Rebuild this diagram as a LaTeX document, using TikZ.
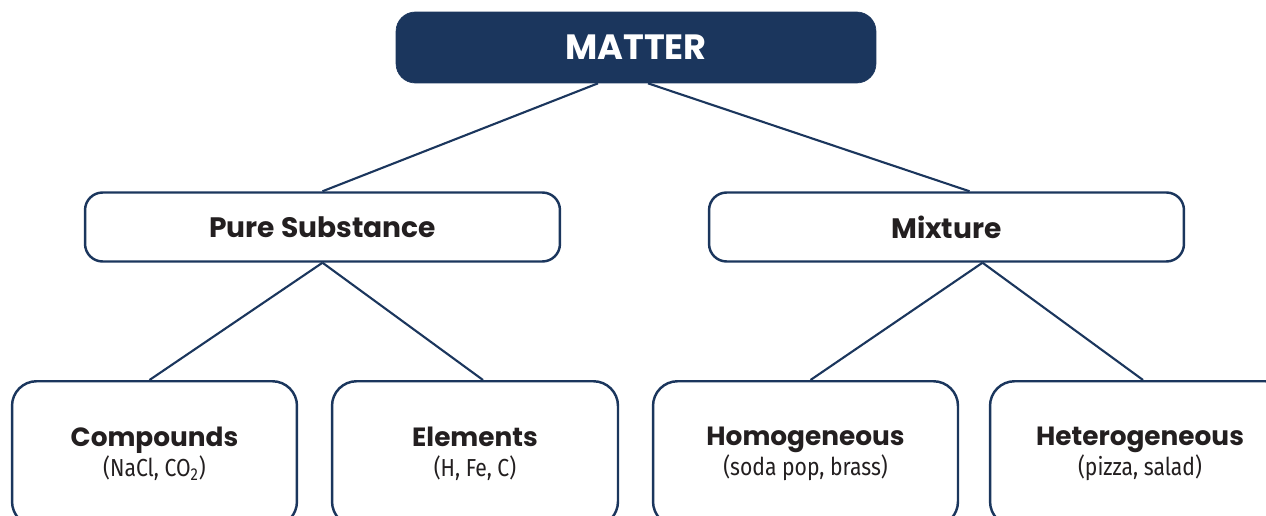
\documentclass[tikz,border=0pt]{standalone}
\usepackage{fontspec}
\setmainfont{Poppins}
\newfontfamily\notefont[FakeStretch=0.86]{Fira Sans}
\usetikzlibrary{calc}
\definecolor{navy}{HTML}{1B365D}
\definecolor{ink}{HTML}{231F20}

\tikzset{
    rootbox/.style={rectangle, rounded corners=11pt, fill=navy, draw=navy,
        minimum width=9.6cm, minimum height=1.42cm, inner sep=0pt,
        text=white, font=\fontsize{20}{24}\selectfont\bfseries},
    midbox/.style={rectangle, rounded corners=10pt, fill=white, draw=navy,
        line width=1.4pt, minimum width=9.5cm, minimum height=1.38cm, inner sep=0pt,
        text=ink, font=\fontsize{16}{19}\selectfont\bfseries},
    leafbox/.style={rectangle, rounded corners=14pt, fill=white, draw=navy,
        line width=1.4pt, minimum height=2.9cm, inner sep=0pt, anchor=north,
        text=ink, align=center, font=\fontsize{15}{18}\selectfont\bfseries},
    link/.style={draw=navy, line width=1.2pt}
}
\newcommand{\note}[1]{\\[-1pt]{\notefont\mdseries\fontsize{14}{16}\selectfont #1}}

\begin{document}
\begin{tikzpicture}[x=0.02cm, y=-0.02cm]
    \useasboundingbox (0,0) rectangle (1266,516);
    \clip (0,0) rectangle (1266,516);
    % Top
    \node[rootbox] (Matter) at (636,47.5) {MATTER};
    % Second level
    \node[midbox] (Pure) at (322.5,227) {Pure Substance};
    \node[midbox] (Mixture) at (946.5,227) {Mixture};
    % Leaves
    \node[leafbox, minimum width=5.7cm] (Compounds) at (154.5,380)
        {Compounds\note{(NaCl, CO\textsubscript{2})}};
    \node[leafbox, minimum width=5.72cm] (Elements) at (475,380)
        {Elements\note{(H, Fe, C)}};
    \node[leafbox, minimum width=6.1cm] (Homogeneous) at (805.5,380)
        {Homogeneous\note{(soda pop, brass)}};
    \node[leafbox, minimum width=6cm] (Heterogeneous) at (1140,380)
        {Heterogeneous\note{(pizza, salad)}};
    % Links
    \draw[link] ($(Matter.south)+(-38,0)$) -- (Pure.north);
    \draw[link] ($(Matter.south)+(12,0)$) -- ($(Mixture.north)+(23,0)$);
    \foreach \leaf/\dx in {Compounds/-5,Elements/8} {
        \draw[link] (Pure.south) -- ($(\leaf.north)+(\dx,0)$);
    }
    \foreach \leaf/\dx in {Homogeneous/5,Heterogeneous/3} {
        \draw[link] ($(Mixture.south)+(36,0)$) -- ($(\leaf.north)+(\dx,0)$);
    }
\end{tikzpicture}
\end{document}
